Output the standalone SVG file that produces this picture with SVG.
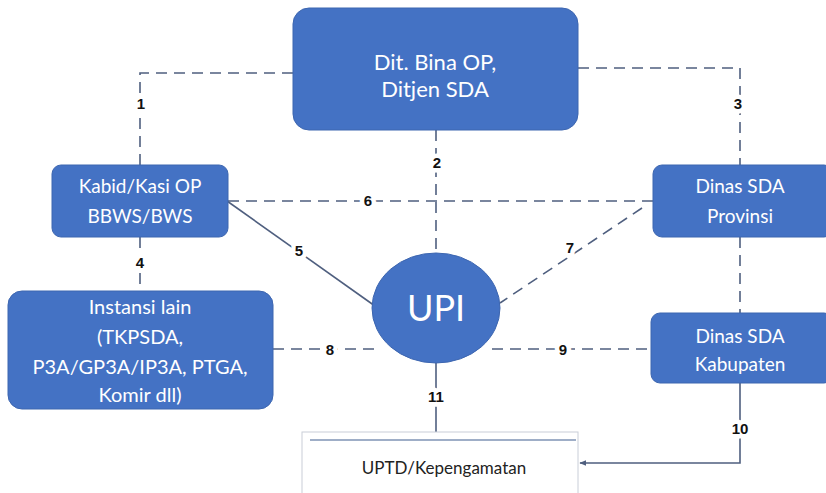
<svg xmlns="http://www.w3.org/2000/svg" width="826" height="493" viewBox="0 0 826 493">
<defs>
<style>
.box{fill:#4472C4;stroke:#3d66b0;stroke-width:1}
.nt{font-family:Lato,"Liberation Sans",sans-serif;fill:#ffffff;text-anchor:middle}
.ln{fill:none;stroke:#4f5f7f;stroke-width:1.6}
.dash{stroke-dasharray:11 7}
.lb{font-family:"Liberation Sans",Arial,sans-serif;font-weight:bold;font-size:15px;fill:#111;text-anchor:middle;paint-order:stroke;stroke:#fff;stroke-width:9px;stroke-linejoin:round}
</style>
<marker id="ar" viewBox="0 0 10 10" refX="9" refY="5" markerWidth="7" markerHeight="7" orient="auto-start-reverse" markerUnits="userSpaceOnUse">
<path d="M0,1 L10,5 L0,9 z" fill="#4f5f7f"/>
</marker>
</defs>
<rect width="826" height="493" fill="#ffffff"/>
<g id="connectors">
<polyline class="ln dash" points="293,73 140,73 140,165"/>
<line class="ln dash" x1="436" y1="130" x2="436" y2="253"/>
<polyline class="ln dash" points="578,68 740,68 740,165"/>
<line class="ln dash" x1="140" y1="237" x2="140" y2="291"/>
<line class="ln" x1="227" y1="201" x2="375" y2="306"/>
<line class="ln dash" x1="228" y1="201" x2="653" y2="201"/>
<line class="ln dash" x1="642" y1="208" x2="500" y2="303"/>
<line class="ln dash" x1="273" y1="349" x2="376" y2="349"/>
<line class="ln dash" x1="492" y1="349" x2="651" y2="349"/>
<line class="ln dash" x1="740" y1="237" x2="740" y2="313"/>
<polyline class="ln" points="740,383 740,463 580,463" marker-end="url(#ar)"/>
<line class="ln" x1="436" y1="362" x2="436" y2="440" marker-end="url(#ar)"/>
<text class="lb" x="141" y="109">1</text>
<text class="lb" x="437" y="168">2</text>
<text class="lb" x="738" y="109">3</text>
<text class="lb" x="140" y="268">4</text>
<text class="lb" x="299" y="256">5</text>
<text class="lb" x="368" y="206">6</text>
<text class="lb" x="570" y="253">7</text>
<text class="lb" x="330" y="355">8</text>
<text class="lb" x="563" y="355">9</text>
<text class="lb" x="740" y="434">10</text>
<text class="lb" x="436" y="402">11</text>
</g>
<g id="dit">
<rect class="box" x="293" y="8" width="285" height="122" rx="16"/>
<text class="nt" font-size="22" x="435" y="70">Dit. Bina OP,</text>
<text class="nt" font-size="22" x="435" y="97">Ditjen SDA</text>
</g>
<g id="kabid">
<rect class="box" x="52" y="165" width="176" height="72" rx="9"/>
<text class="nt" font-size="19" x="140" y="193">Kabid/Kasi OP</text>
<text class="nt" font-size="19" x="140" y="223">BBWS/BWS</text>
</g>
<g id="provinsi">
<rect class="box" x="653" y="165" width="180" height="72" rx="9"/>
<text class="nt" font-size="19" x="740" y="193">Dinas SDA</text>
<text class="nt" font-size="19" x="740" y="223">Provinsi</text>
</g>
<g id="instansi">
<rect class="box" x="8" y="291" width="265" height="118" rx="14"/>
<text class="nt" font-size="20" x="140" y="314">Instansi lain</text>
<text class="nt" font-size="20" x="140" y="344">(TKPSDA,</text>
<text class="nt" font-size="20" x="140" y="374">P3A/GP3A/IP3A, PTGA,</text>
<text class="nt" font-size="20" x="140" y="402">Komir dll)</text>
</g>
<g id="upi">
<ellipse cx="436" cy="308" rx="64" ry="55" fill="#4472C4" stroke="#3d66b0"/>
<text class="nt" font-size="36" x="436" y="321">UPI</text>
</g>
<g id="kabupaten">
<rect class="box" x="651" y="313" width="182" height="70" rx="9"/>
<text class="nt" font-size="19" x="740" y="343">Dinas SDA</text>
<text class="nt" font-size="19" x="740" y="371">Kabupaten</text>
</g>
<g id="uptd">
<rect x="302" y="432" width="276" height="70" fill="#ffffff" stroke="#c9ced8" stroke-width="1"/>
<line x1="310" y1="440" x2="576" y2="440" stroke="#7f93b5" stroke-width="1.5"/>
<text font-family="Lato,'Liberation Sans',sans-serif" font-size="17" fill="#222" text-anchor="middle" x="444" y="474">UPTD/Kepengamatan</text>
</g>
</svg>
